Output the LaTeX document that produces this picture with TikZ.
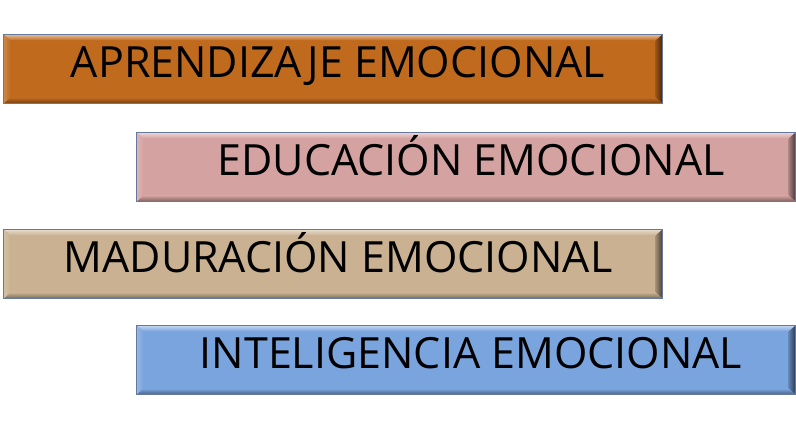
\documentclass[tikz,border=0pt]{standalone}
\usepackage{fontspec}
\newfontfamily\boxfont{Open Sans}
\definecolor{bordercol}{RGB}{100,120,160}
\definecolor{orangebox}{RGB}{192,106,30}
\definecolor{pinkbox}{RGB}{212,162,161}
\definecolor{tanbox}{RGB}{201,177,145}
\definecolor{bluebox}{RGB}{122,164,222}
\tikzset{
  bevelbox/.style={draw=bordercol, line width=1pt, fill=#1,
    minimum width=659pt, minimum height=69pt, inner sep=0pt, anchor=north west,
    path picture={
      \coordinate (pnw) at (path picture bounding box.north west);
      \coordinate (pne) at (path picture bounding box.north east);
      \coordinate (pse) at (path picture bounding box.south east);
      \coordinate (psw) at (path picture bounding box.south west);
      \shade[top color=#1!45!white, bottom color=#1] (pnw) -- (pne) -- ([shift={(-7pt,-6pt)}]pne) -- ([shift={(7pt,-6pt)}]pnw) -- cycle;
      \shade[left color=#1!80!black, right color=#1!35!black] (pne) -- (pse) -- ([shift={(-7pt,6pt)}]pse) -- ([shift={(-7pt,-6pt)}]pne) -- cycle;
      \shade[top color=#1, bottom color=#1!60!black] (pse) -- (psw) -- ([shift={(7pt,6pt)}]psw) -- ([shift={(-7pt,6pt)}]pse) -- cycle;
      \shade[left color=#1!80!white, right color=#1] (psw) -- (pnw) -- ([shift={(7pt,-6pt)}]pnw) -- ([shift={(7pt,6pt)}]psw) -- cycle;
    }},
  boxlabel/.style={font=\boxfont\fontsize{43pt}{48pt}\selectfont, text=black, inner sep=0pt, anchor=base}
}
\begin{document}
\begin{tikzpicture}[x=1pt,y=1pt]
\useasboundingbox (0,0) rectangle (796,436);
\node[bevelbox=orangebox] (b1) at (3,402) {};
\node[bevelbox=pinkbox]   (b2) at (136,304) {};
\node[bevelbox=tanbox]    (b3) at (3,207) {};
\node[bevelbox=bluebox]   (b4) at (136,111) {};
\node[boxlabel] (t1) at ([shift={(5pt,-9pt)}]b1.center) {APRENDIZAJE EMOCIONAL};
\node[boxlabel] (t2) at ([shift={(5pt,-9pt)}]b2.center) {EDUCACIÓN EMOCIONAL};
\node[boxlabel] (t3) at ([shift={(5pt,-9pt)}]b3.center) {MADURACIÓN EMOCIONAL};
\node[boxlabel] (t4) at ([shift={(5pt,-9pt)}]b4.center) {INTELIGENCIA EMOCIONAL};
\end{tikzpicture}
\end{document}
